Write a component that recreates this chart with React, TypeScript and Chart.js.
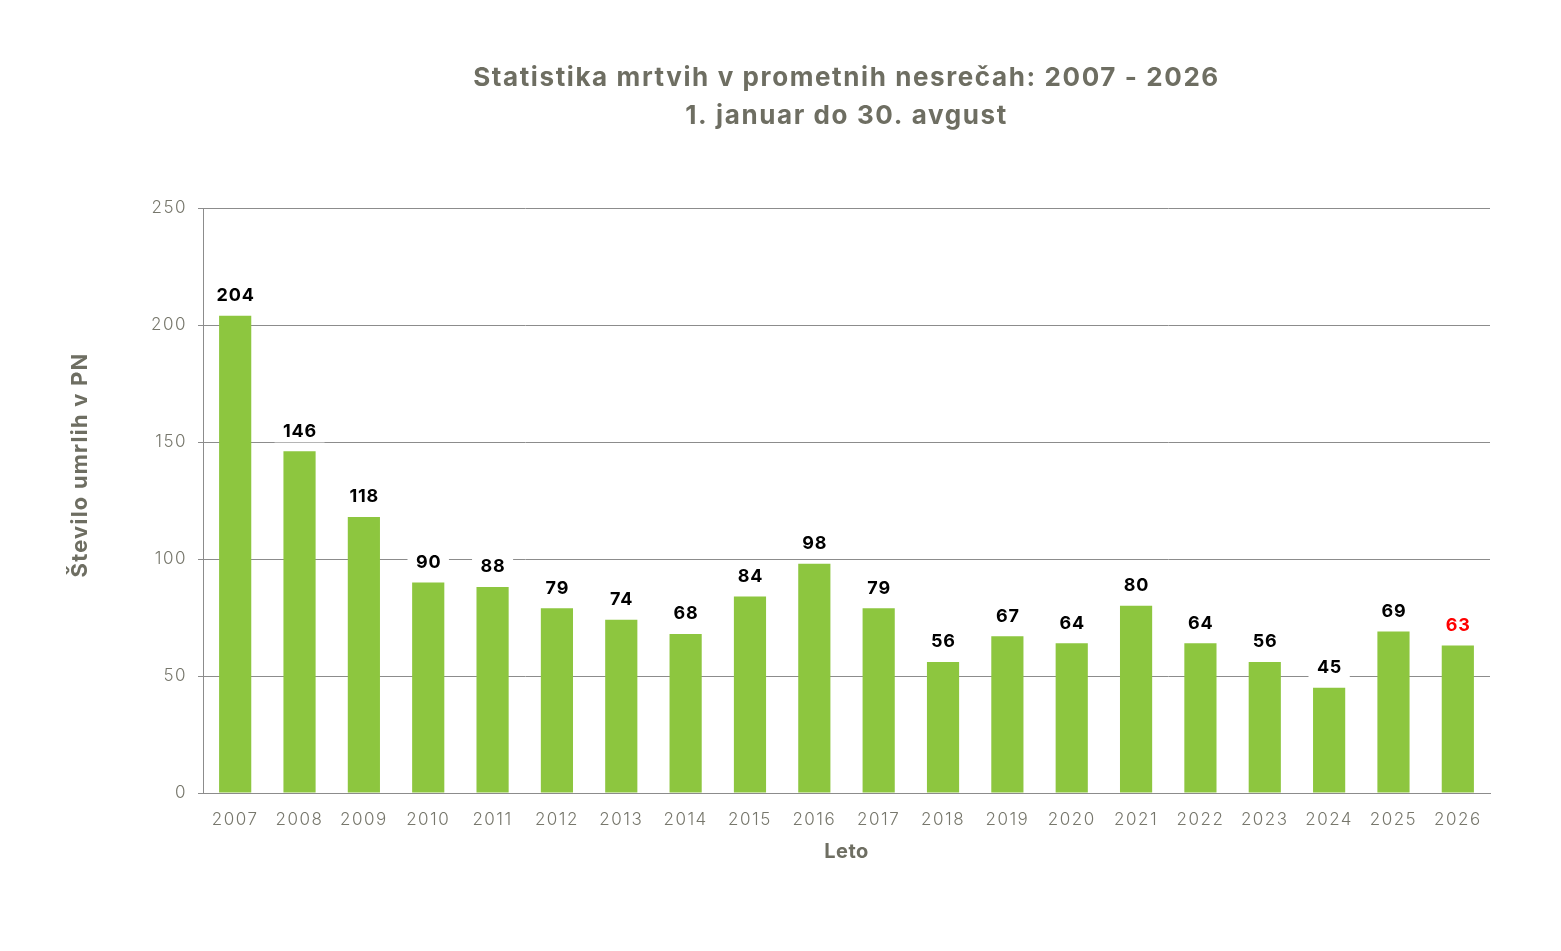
import { useEffect, useRef } from "react";
import { Chart, registerables } from "chart.js";

Chart.register(...registerables);

const years = [
  "2007", "2008", "2009", "2010", "2011", "2012", "2013", "2014", "2015", "2016",
  "2017", "2018", "2019", "2020", "2021", "2022", "2023", "2024", "2025", "2026",
];
const deaths = [204, 146, 118, 90, 88, 79, 74, 68, 84, 98, 79, 56, 67, 64, 80, 64, 56, 45, 69, 63];
const yTicks = [0, 50, 100, 150, 200, 250];
const titleLines = ["Statistika mrtvih v prometnih nesrečah: 2007 - 2026", "1. januar do 30. avgust"];
const yTitle = "Število umrlih v PN";
const xTitle = "Leto";
const currentYear = "2026";

const FONT = "Inter, 'Noto Sans', sans-serif";
const GREY = "#6e6e62";
const TICK = "#77776c";
const GRID = "#8c8c8c";
const BAR = "#8dc63f";

// draws the titles and the boxed value labels
const decorPlugin = {
  id: "decor",
  beforeDraw(chart: Chart) {
    (chart.ctx as any).letterSpacing = "1.5px";
  },
  afterDatasetsDraw(chart: Chart) {
    const { ctx, chartArea } = chart;
    const c = ctx as any;
    const cx = (chartArea.left + chartArea.right) / 2;
    ctx.save();
    ctx.textAlign = "center";
    ctx.textBaseline = "middle";

    ctx.fillStyle = GREY;
    c.letterSpacing = "1.6px";
    ctx.font = `700 26px ${FONT}`;
    ctx.fillText(titleLines[0], cx, 78);
    ctx.fillText(titleLines[1], cx, 116);

    c.letterSpacing = "0.5px";
    ctx.font = `700 20px ${FONT}`;
    ctx.fillText(xTitle, cx, 852);
    c.letterSpacing = "1.2px";
    ctx.font = `700 22px ${FONT}`;
    ctx.save();
    ctx.translate(80, 465);
    ctx.rotate(-Math.PI / 2);
    ctx.fillText(yTitle, 0, 0);
    ctx.restore();

    const meta = chart.getDatasetMeta(0);
    c.letterSpacing = "0.8px";
    ctx.font = `700 18px ${FONT}`;
    meta.data.forEach((bar: any, i: number) => {
      const text = String(deaths[i]);
      const y = bar.y - 21;
      const w = ctx.measureText(text).width + 16;
      ctx.fillStyle = "#ffffff";
      ctx.fillRect(bar.x - w / 2, y - 12, w, 24);
      ctx.fillStyle = years[i] === currentYear ? "#ff0000" : "#000000";
      ctx.fillText(text, bar.x + 0.4, y + 1);
    });
    c.letterSpacing = "0px";
    ctx.restore();
  },
};

export default function App() {
  const canvasRef = useRef<HTMLCanvasElement | null>(null);

  useEffect(() => {
    document.body.style.margin = "0";
    const canvas = canvasRef.current;
    if (!canvas) return;

    const chart = new Chart(canvas, {
      type: "bar",
      data: {
        labels: years,
        datasets: [
          {
            label: yTitle,
            data: deaths,
            backgroundColor: BAR,
            barPercentage: 0.5,
            categoryPercentage: 1,
          },
        ],
      },
      options: {
        responsive: true,
        maintainAspectRatio: false,
        animation: false,
        layout: { padding: { top: 208, right: 71, left: 0, bottom: 0 } },
        plugins: {
          legend: { display: false },
          tooltip: { enabled: false },
          title: { display: false },
        },
        scales: {
          x: {
            grid: { display: false },
            border: { display: true, color: GRID, width: 1 },
            ticks: { color: TICK, font: { family: FONT, size: 17, weight: 300 }, padding: 9, maxRotation: 0 },
            afterFit: (scale: any) => {
              scale.height = 951 - 208 - 585;
            },
          },
          y: {
            min: 0,
            max: 250,
            afterBuildTicks: (scale: any) => {
              scale.ticks = yTicks.map((v) => ({ value: v }));
            },
            grid: { color: GRID, lineWidth: 1, tickLength: 5 },
            border: { display: true, color: GRID, width: 1 },
            ticks: { color: TICK, font: { family: FONT, size: 17, weight: 300 }, padding: 11 },
            afterFit: (scale: any) => {
              scale.width = 203;
            },
          },
        },
      },
      plugins: [decorPlugin],
    });

    return () => chart.destroy();
  }, []);

  return (
    <div style={{ position: "relative", width: 1561, height: 951, background: "#fff" }}>
      <canvas ref={canvasRef} />
    </div>
  );
}
